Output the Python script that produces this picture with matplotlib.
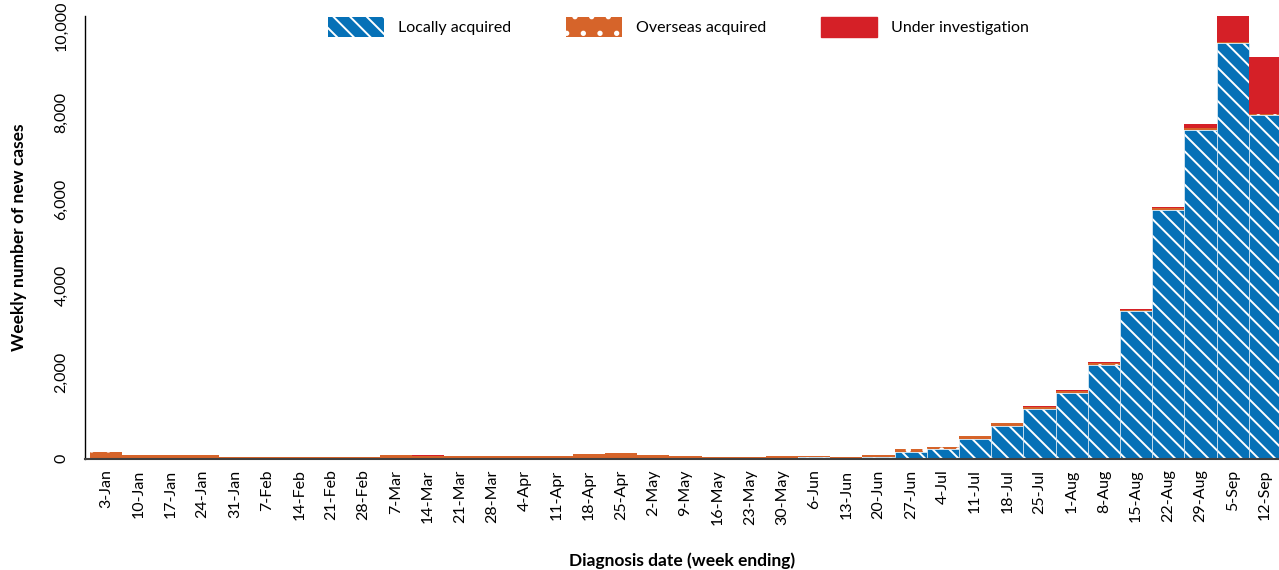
import matplotlib
matplotlib.use("Agg")
from matplotlib import pyplot as plt
from matplotlib.patches import Patch
import numpy as np

weeks = ['3-Jan', '10-Jan', '17-Jan', '24-Jan', '31-Jan', '7-Feb', '14-Feb', '21-Feb',
         '28-Feb', '7-Mar', '14-Mar', '21-Mar', '28-Mar', '4-Apr', '11-Apr', '18-Apr',
         '25-Apr', '2-May', '9-May', '16-May', '23-May', '30-May', '6-Jun', '13-Jun',
         '20-Jun', '27-Jun', '4-Jul', '11-Jul', '18-Jul', '25-Jul', '1-Aug', '8-Aug',
         '15-Aug', '22-Aug', '29-Aug', '5-Sep', '12-Sep']

locally_acquired = [15, 10, 10, 8, 5, 5, 5, 5, 5, 5, 5, 5, 5, 5, 5, 5, 8, 10, 10, 10,
                    10, 20, 25, 15, 40, 150, 215, 450, 750, 1140, 1510, 2160, 3400,
                    5745, 7595, 9610, 7950]
overseas_acquired = [135, 78, 78, 66, 37, 37, 30, 30, 37, 69, 55, 55, 50, 50, 62, 99,
                     119, 71, 57, 26, 36, 47, 42, 31, 41, 60, 45, 60, 60, 55, 55, 50,
                     35, 40, 40, 15, 20]
under_investigation = [0, 0, 0, 0, 0, 0, 7, 7, 0, 0, 14, 0, 12, 12, 0, 0, 0, 0, 0, 10,
                       0, 0, 0, 0, 0, 9, 6, 10, 10, 17, 17, 20, 18, 23, 90, 595, 1303]

blue = '#0671B7'
orange = '#D6642A'
red = '#D52027'

plt.rcParams['font.family'] = ['Lato', 'DejaVu Sans']
plt.rcParams['hatch.linewidth'] = 1.4

fig = plt.figure(figsize=(12.79, 5.70), dpi=100)
ax = fig.add_axes([85 / 1279, 111.5 / 570, 1194 / 1279, 442.5 / 570])

x = np.arange(len(weeks))
local = np.array(locally_acquired)
overseas = np.array(overseas_acquired)
ui = np.array(under_investigation)

ax.bar(x, local, width=1.0, color=blue, edgecolor='white', linewidth=0.4, hatch='\\\\')
ax.bar(x, overseas, width=1.0, bottom=local, color=orange, edgecolor='white',
       linewidth=0.0, hatch='.')
ax.bar(x, ui, width=1.0, bottom=local + overseas, color=red, linewidth=0.0)

ax.set_xlim(-0.655, 36.44)
ax.set_ylim(0, 10230)
ax.set_yticks([0, 2000, 4000, 6000, 8000, 10000])
ax.set_yticklabels(['0', '2,000', '4,000', '6,000', '8,000', '10,000'],
                   rotation=90, va='center', fontsize=11.5)
ax.set_xticks(x)
ax.set_xticklabels(weeks, rotation=90, fontsize=11.5)
ax.tick_params(axis='y', length=0, pad=12)
ax.tick_params(axis='x', length=0, pad=8)

for s in ['top', 'right']:
    ax.spines[s].set_visible(False)
ax.spines['left'].set_color('black')
ax.spines['left'].set_linewidth(1.0)
ax.spines['bottom'].set_color('#404040')
ax.spines['bottom'].set_linewidth(1.5)

ax.set_ylabel('Weekly number of new cases', fontsize=12.5, fontweight='bold', labelpad=20)
ax.set_xlabel('Diagnosis date (week ending)', fontsize=12.5, fontweight='bold', labelpad=19.5)

handles = [Patch(facecolor=blue, edgecolor='white', linewidth=0, hatch='\\\\'),
           Patch(facecolor=orange, edgecolor='white', linewidth=0, hatch='.'),
           Patch(facecolor=red, edgecolor=red)]
ax.legend(handles, ['Locally acquired', 'Overseas acquired', 'Under investigation'],
          loc='upper center', bbox_to_anchor=(0.497, 1.013), ncol=3, frameon=False,
          fontsize=11.5, handlelength=3.5, handleheight=1.6, handletextpad=0.9,
          columnspacing=3.4, borderaxespad=0.0)

fig.savefig('out.png', dpi=100)
